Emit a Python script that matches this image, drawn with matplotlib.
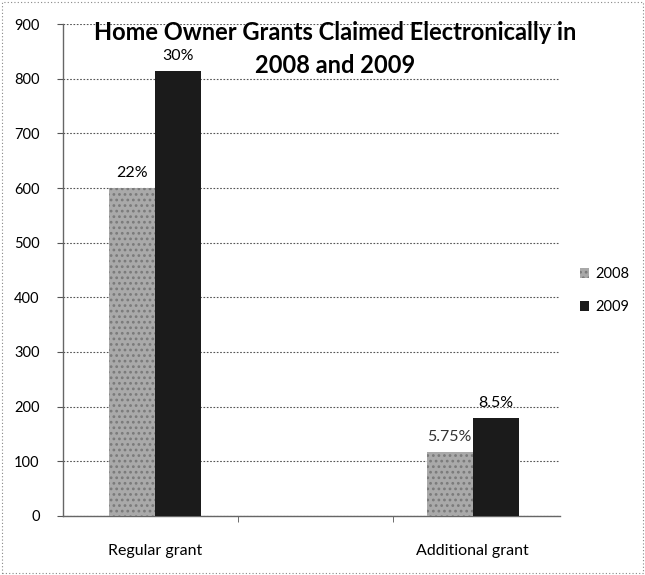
import matplotlib
matplotlib.use("Agg")
import matplotlib.pyplot as plt
from matplotlib.patches import Rectangle

# grants claimed electronically, per grant type
categories = ["Regular grant", "", "Additional grant"]
grants_2008 = [600, None, 117]
grants_2009 = [815, None, 179]
pct_2008 = ["22%", None, "5.75%"]
pct_2009 = ["30%", None, "8.5%"]
y_ticks = [0, 100, 200, 300, 400, 500, 600, 700, 800, 900]

plt.rcParams["font.family"] = ["Lato", "DejaVu Sans"]
plt.rcParams["hatch.linewidth"] = 1.2

fig = plt.figure(figsize=(6.45, 5.75), dpi=100)
ax = fig.add_axes([0.098, 0.103, 0.77, 0.855])

w = 0.29
for i, cat in enumerate(categories):
    if grants_2008[i] is None:
        continue
    ax.bar(i - w / 2, grants_2008[i], w, color="#a9a9a9", hatch="...",
           edgecolor="#7a7a7a", linewidth=0, zorder=3,
           label="2008" if i == 0 else None)
    ax.bar(i + w / 2, grants_2009[i], w, color="#1b1b1b", linewidth=0,
           zorder=3, label="2009" if i == 0 else None)

# percentage labels over the bars
lbl = dict(ha="center", va="bottom", fontsize=11.5, zorder=4)
ax.text(0 - w / 2, grants_2008[0] + 14, pct_2008[0], **lbl)
ax.text(0 + w / 2, grants_2009[0] + 14, pct_2009[0], **lbl)
ax.text(2 - w / 2, grants_2008[2] + 14, pct_2008[2], color="#333333", **lbl)
ax.text(2 + w / 2, grants_2009[2] + 14, pct_2009[2], **lbl)

ax.set_ylim(0, 900)
ax.set_xlim(-0.58, 2.55)
ax.set_yticks(y_ticks)
ax.set_yticklabels([str(v) for v in y_ticks], fontsize=10.5)
ax.set_xticks([0, 2])
ax.set_xticklabels([categories[0], categories[2]], fontsize=11.5)
ax.set_xticks([0.52, 1.5], minor=True)
ax.tick_params(axis="x", which="major", length=0, pad=20)
ax.tick_params(axis="x", which="minor", length=4, color="#555555")
ax.tick_params(axis="y", length=4, color="#555555", pad=13)

ax.yaxis.grid(True, linestyle=(0, (1.5, 1.5)), color="#555555", linewidth=0.8, zorder=0)
for side in ["top", "right"]:
    ax.spines[side].set_visible(False)
for side in ["left", "bottom"]:
    ax.spines[side].set_color("#666666")
    ax.spines[side].set_linewidth(1)

fig.text(0.52, 1 - 21 / 575, "Home Owner Grants Claimed Electronically in\n2008 and 2009",
         ha="center", va="top", fontsize=17, fontweight="bold", linespacing=1.55,
         multialignment="center", zorder=5)

leg = ax.legend(loc="center left", bbox_to_anchor=(1.015, 0.458), frameon=False,
                fontsize=10.5, handlelength=0.6, handleheight=0.6,
                handletextpad=0.4, labelspacing=1.3)

# dotted border around the whole figure
fig.patches.append(Rectangle((0.003, 0.003), 0.994, 0.994, transform=fig.transFigure,
                             fill=False, edgecolor="#888888", linestyle=(0, (1, 2)),
                             linewidth=0.8))

fig.savefig("out.png", dpi=100)
